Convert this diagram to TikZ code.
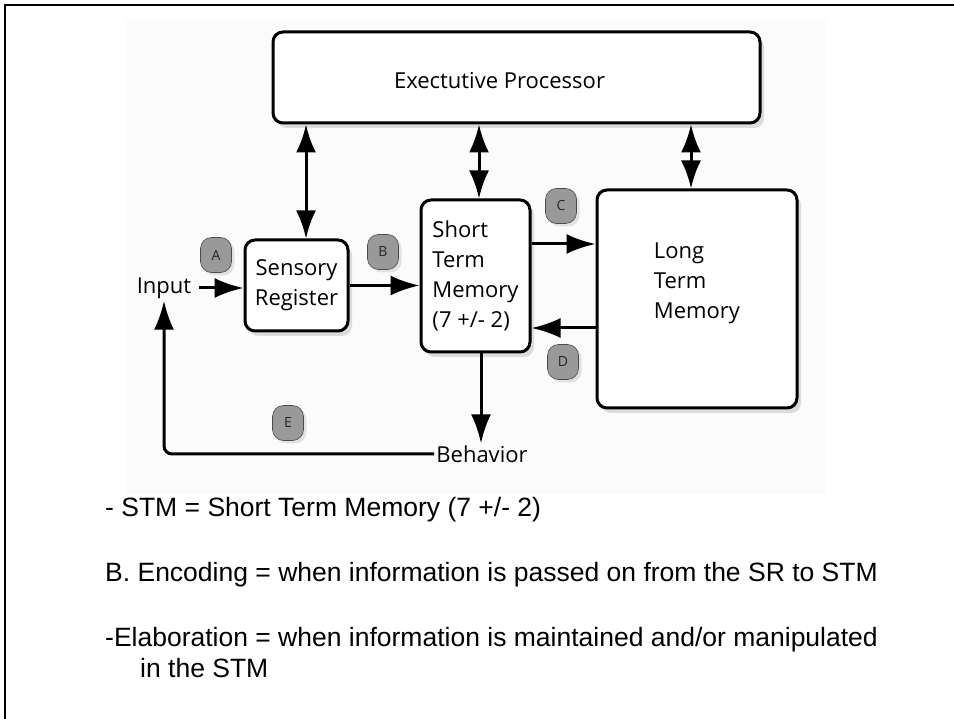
\documentclass[tikz,border=0pt]{standalone}
\usepackage{fontspec}
\setmainfont{Liberation Sans}
\newfontfamily\diagfont{Open Sans}
\usetikzlibrary{arrows.meta,shadows,calc}
\begin{document}
\begin{tikzpicture}[x=1pt,y=-1pt,
  box/.style={draw, line width=3pt, rounded corners=10pt, fill=white,
    drop shadow={shadow xshift=4pt, shadow yshift=-5pt, opacity=0.25},
    font=\diagfont\fontsize{22}{30}\selectfont, inner sep=0pt},
  lbl/.style={font=\diagfont\fontsize{22}{30}\selectfont, inner sep=2pt},
  tag/.style={draw=black!70, line width=0.6pt, fill=black!40, rounded corners=11pt,
    minimum width=31pt, minimum height=35pt, inner sep=0pt,
    drop shadow={shadow xshift=3pt, shadow yshift=-3pt, opacity=0.2},
    font=\diagfont\fontsize{14}{14}\selectfont, text=black!85},
  arr/.style={line width=3pt, -{Latex[length=29pt,width=20pt]}},
  dbl/.style={line width=3pt, {Latex[length=28pt,width=20pt]}-{Latex[length=28pt,width=20pt]}},
  note/.style={anchor=base west, inner sep=0pt, font=\fontsize{26.5}{31}\selectfont}
]
\useasboundingbox (0,0) rectangle (954,719);
\fill[white] (0,0) rectangle (954,719);
\fill[black!1.5] (126,20) rectangle (826,494);
% frame
\draw[line width=2.5pt] (5,719) -- (5,5) -- (954,5);

% boxes
\node[box, minimum width=487pt, minimum height=91pt,
  label={[lbl, xshift=-17pt, yshift=-3pt]center:Exectutive Processor}] (ep) at (516.5,77.5) {};
\node[box, minimum width=103pt, minimum height=91pt, align=center] (sr) at (296.5,285.5) {Sensory\\Register};
\node[box, minimum width=109pt, minimum height=152pt, align=left] (stm) at (475.5,276) {Short\\Term\\Memory\\(7 +/- 2)};
\node[box, minimum width=200pt, minimum height=218pt,
  label={[lbl, align=left, yshift=16pt]center:Long\\Term\\Memory}] (ltm) at (697,299) {};

% free labels
\node[lbl] (inp) at (164,288) {Input};
\node[lbl] (beh) at (482,454) {Behavior};

% connectors
\draw[dbl] ([xshift=9.5pt]sr.north) -- ([xshift=9.5pt]sr.north |- ep.south);
\draw[dbl] ([xshift=3.5pt]stm.north) -- ([xshift=3.5pt]stm.north |- ep.south);
\draw[dbl] ([xshift=-6pt]ltm.north) -- ([xshift=-6pt]ltm.north |- ep.south);
\draw[arr, shorten <=6pt] (inp.east) -- (inp.east -| sr.west);
\draw[arr] (sr.east) -- (sr.east -| stm.west);
\draw[arr] ([yshift=32pt]stm.east) -- ([yshift=32pt]stm.east -| ltm.west);
\draw[arr] ([yshift=-52pt]stm.east -| ltm.west) -- ([yshift=-52pt]stm.east);
\draw[arr] ([xshift=5.5pt]stm.south) -- ([xshift=5.5pt]stm.south |- beh.north);
\draw[arr, rounded corners=8pt] (beh.west) -| (inp.south);

% tags
\node[tag] (ta) at (216,255) {A};
\node[tag] (tb) at (383,252) {B};
\node[tag] (tc) at (561,206) {C};
\node[tag] (td) at (563,362) {D};
\node[tag] (te) at (288,423) {E};

% notes
\node[note] (n1) at (105,516) {- STM = Short Term Memory (7 +/- 2)};
\node[note] (n2) at (105,581) {B. Encoding = when information is passed on from the SR to STM};
\node[note] (n3) at (105,646) {-Elaboration = when information is maintained and/or manipulated};
\node[note] (n4) at (140,677) {in the STM};
\end{tikzpicture}
\end{document}
